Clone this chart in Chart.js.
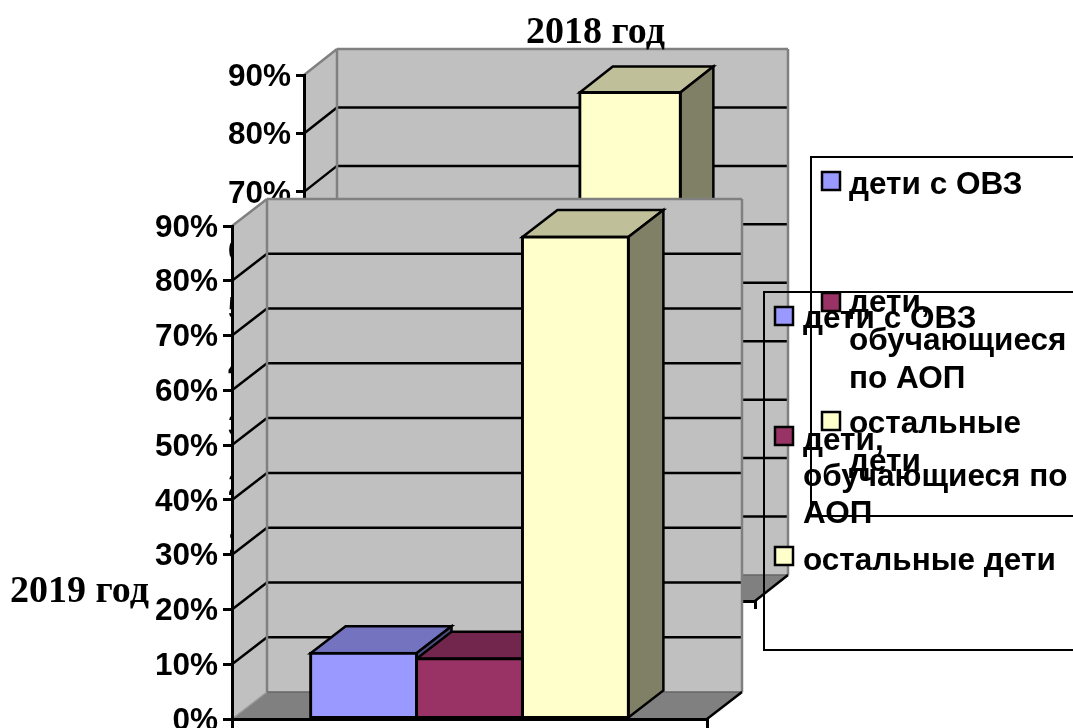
<!DOCTYPE html>
<html>
<head>
<meta charset="utf-8">
<title>Дети с ОВЗ</title>
<script src="https://cdn.jsdelivr.net/npm/chart.js@4/dist/chart.umd.min.js"></script>
<style>
  html, body { margin: 0; padding: 0; background: #fff; overflow: hidden; }
  canvas { position: absolute; left: 0; top: 0; }
</style>
</head>
<body>
<canvas id="chart2018" width="1073" height="728"></canvas>
<canvas id="chart2019" width="1073" height="728"></canvas>
<script>
const seriesNames = ['дети с ОВЗ', 'дети, обучающиеся по АОП', 'остальные дети']
const seriesColors = ['#9999FF', '#993366', '#FFFFCC']
const values2018 = [7, 6, 87]   // first two are hidden in the picture, estimated
const values2019 = [12, 11, 88]
const yTicksMax = 90
const legendLines2018 = [['дети с ОВЗ'], ['дети,', 'обучающиеся', 'по АОП'], ['остальные', 'дети']]
const legendLines2019 = [['дети с ОВЗ'], ['дети,', 'обучающиеся по', 'АОП'], ['остальные дети']]

const AXIS_FONT = 'bold 31.5px "Liberation Sans"'
const TITLE_FONT = 'bold 38px "Liberation Serif"'

const shade = (hex, k) => {
  const n = parseInt(hex.slice(1), 16)
  return `rgb(${(n >> 16) * k}, ${((n >> 8) & 255) * k}, ${(n & 255) * k})`
}

const poly = (ctx, pts, fill, stroke, lw) => {
  ctx.beginPath()
  pts.forEach((p, i) => i ? ctx.lineTo(p[0], p[1]) : ctx.moveTo(p[0], p[1]))
  ctx.closePath()
  if (fill) { ctx.fillStyle = fill; ctx.fill() }
  if (stroke) { ctx.strokeStyle = stroke; ctx.lineWidth = lw; ctx.lineJoin = 'miter'; ctx.stroke() }
}

const line = (ctx, x1, y1, x2, y2, color, lw) => {
  ctx.beginPath()
  ctx.moveTo(x1, y1)
  ctx.lineTo(x2, y2)
  ctx.strokeStyle = color
  ctx.lineWidth = lw
  ctx.stroke()
}

// walls, floor and the box behind the bars
const walls = {
  id: 'walls',
  beforeDraw(chart, args, o) {
    const {ctx, chartArea: a} = chart
    const y = chart.scales.y
    const dx = o.dx, dy = o.dy
    ctx.save()
    poly(ctx, [[a.left, a.top], [a.left + dx, a.top - dy], [a.left + dx, a.bottom - dy], [a.left, a.bottom]], '#C0C0C0')
    poly(ctx, [[a.left + dx, a.top - dy], [a.right + dx, a.top - dy], [a.right + dx, a.bottom - dy], [a.left + dx, a.bottom - dy]], '#C0C0C0')
    poly(ctx, [[a.left, a.bottom], [a.left + dx, a.bottom - dy], [a.right + dx, a.bottom - dy], [a.right, a.bottom]], '#808080')
    y.ticks.forEach(t => {
      if (t.value <= 0 || t.value >= yTicksMax) return
      const py = y.getPixelForValue(t.value)
      line(ctx, a.left, py, a.left + dx, py - dy, '#000', 2.5)
      line(ctx, a.left + dx, py - dy, a.right + dx, py - dy, '#000', 2.5)
    })
    line(ctx, a.left, a.top, a.left + dx, a.top - dy, '#808080', 2.5)
    line(ctx, a.left + dx, a.top - dy, a.right + dx, a.top - dy, '#808080', 2.5)
    line(ctx, a.left + dx, a.top - dy, a.left + dx, a.bottom - dy, '#808080', 2.5)
    line(ctx, a.right + dx, a.top - dy, a.right + dx, a.bottom - dy, '#808080', 2.5)
    line(ctx, a.left + dx, a.bottom - dy, a.right + dx, a.bottom - dy, '#666', 1.5)
    line(ctx, a.left, a.bottom, a.left + dx, a.bottom - dy, '#999', 1.5)
    line(ctx, a.right, a.bottom, a.right + dx, a.bottom - dy, '#000', 2.5)
    ctx.restore()
  },
  // top and side of every bar, the library then paints the front over them
  beforeDatasetsDraw(chart, args, o) {
    const {ctx} = chart
    const dx = o.dx, dy = o.dy
    ctx.save()
    chart.data.datasets.forEach((ds, i) => {
      const bar = chart.getDatasetMeta(i).data[0]
      const l = bar.x - bar.width / 2, r = bar.x + bar.width / 2
      poly(ctx, [[l, bar.y], [l + dx, bar.y - dy], [r + dx, bar.y - dy], [r, bar.y]], shade(ds.backgroundColor, 0.75), '#000', 2.5)
      poly(ctx, [[r, bar.y], [r + dx, bar.y - dy], [r + dx, bar.base - dy], [r, bar.base]], shade(ds.backgroundColor, 0.5), '#000', 2.5)
    })
    ctx.restore()
  },
  afterDraw(chart, args, o) {
    const {ctx} = chart
    ctx.save()
    ctx.fillStyle = '#000'
    ctx.textBaseline = 'middle'
    ctx.textAlign = 'left'
    ctx.font = TITLE_FONT
    ctx.fillText(o.title, o.titleX, o.titleY)
    // legend box, its right side runs off the page
    const b = o.box
    ctx.beginPath()
    ctx.moveTo(1073, b.top)
    ctx.lineTo(b.left, b.top)
    ctx.lineTo(b.left, b.bottom)
    ctx.lineTo(1073, b.bottom)
    ctx.strokeStyle = '#000'
    ctx.lineWidth = 2
    ctx.stroke()
    ctx.font = AXIS_FONT
    o.lines.forEach((rows, i) => {
      const my = o.markerY[i]
      ctx.fillStyle = seriesColors[i]
      ctx.fillRect(b.left + 11, my - 9, 18, 18)
      ctx.lineWidth = 2.5
      ctx.strokeRect(b.left + 11, my - 9, 18, 18)
      ctx.fillStyle = '#000'
      rows.forEach((row, j) => ctx.fillText(row, o.textX, o.textY[i] + j * o.lineH))
    })
    ctx.restore()
  }
}

const makeChart = (id, values, area, depth, labelOpts) => {
  const datasets = seriesNames.map((name, i) => ({
    label: name,
    data: [values[i]],
    backgroundColor: seriesColors[i],
    borderColor: '#000',
    borderWidth: 3,
    borderSkipped: false,
    inflateAmount: 1.5
  }))
  return new Chart(document.getElementById(id), {
    type: 'bar',
    data: { labels: [''], datasets },
    plugins: [walls],
    options: {
      responsive: false,
      animation: false,
      categoryPercentage: 0.669,
      barPercentage: 1,
      layout: {
        padding: {
          left: area.left - 100,
          top: area.top,
          right: 1073 - area.right,
          bottom: 728 - area.bottom
        }
      },
      scales: {
        x: {
          ticks: { display: false },
          grid: { drawOnChartArea: false, color: '#000', lineWidth: 3, tickLength: area.tick, offset: true },
          border: { color: '#000', width: 3 },
          afterFit: s => { s.height = 0; s.paddingLeft = 0; s.paddingRight = 0 }
        },
        y: {
          min: 0,
          max: yTicksMax,
          ticks: {
            stepSize: 10,
            padding: 5,
            labelOffset: 2,
            color: '#000',
            font: { family: '"Liberation Sans"', size: 31.5, weight: 'bold' },
            callback: v => v + '%'
          },
          grid: { drawOnChartArea: false, color: '#000', lineWidth: 3, tickLength: area.tick },
          border: { color: '#000', width: 3 },
          afterFit: s => { s.width = 100; s.paddingTop = 0; s.paddingBottom = 0 }
        }
      },
      plugins: {
        legend: { display: false },
        tooltip: { enabled: false },
        walls: { dx: depth[0], dy: depth[1], ...labelOpts }
      }
    }
  })
}

makeChart('chart2018', values2018, {left: 304, right: 755, top: 75, bottom: 601, tick: 8}, [33, 26], {
  title: '2018 год', titleX: 526, titleY: 33,
  box: {left: 811, top: 157, bottom: 516},
  lines: legendLines2018, markerY: [181, 302, 421], textX: 849, textY: [185, 303, 424], lineH: 38
})

makeChart('chart2019', values2019, {left: 232, right: 707, top: 226, bottom: 719, tick: 9}, [35, 27], {
  title: '2019 год', titleX: 10, titleY: 592,
  box: {left: 764, top: 292, bottom: 650},
  lines: legendLines2019, markerY: [316, 436, 556], textX: 803, textY: [319, 441, 561], lineH: 36.5
})
</script>
</body>
</html>
